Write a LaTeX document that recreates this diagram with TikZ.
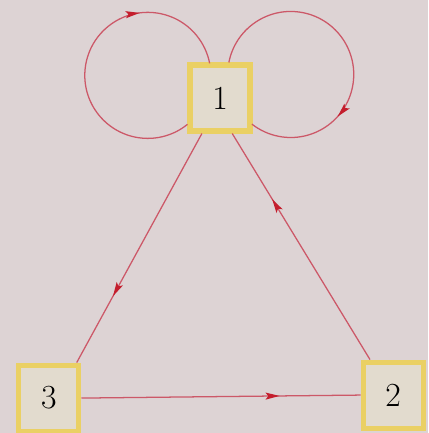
\documentclass[tikz,border=0pt]{standalone}
\usepackage{xcolor}
\usepackage{tikz}
\usetikzlibrary{positioning,arrows.meta,decorations.markings}

\definecolor{paper}{RGB}{221,211,212}
\definecolor{boxfill}{RGB}{226,219,206}
\definecolor{boxedge}{RGB}{234,208,100}
\definecolor{edgered}{RGB}{204,88,104}
\definecolor{tipred}{RGB}{196,30,45}

\begin{document}
\begin{tikzpicture}[
  x=0.025cm, y=0.025cm,
  state/.style={draw=boxedge, fill=boxfill, line width=3.6pt,
                minimum width=1.5cm, minimum height=1.65cm,
                inner sep=0pt, font=\fontsize{24}{28}\selectfont},
  link/.style={draw=edgered, line width=0.9pt,
               postaction={decorate, decoration={markings,
                 mark=at position 0.71 with
                 {\arrow[tipred]{Stealth[length=10pt,width=5pt,inset=2pt]}}}}}
]
\fill[paper] (0,0) rectangle (428,433);
\useasboundingbox (0,0) rectangle (428,433);

\node[state] (b1) at (220,335) {1};
\node[state, on grid, below left=7.5cm and 4.275cm of b1] (b3) {3};
\node[state, on grid, below right=7.425cm and 4.325cm of b1] (b2) {2};

% loops on node 1
\draw[link] (b1.219) arc[start angle=-51, end angle=-349, radius=1.575cm];
\draw[link] (b1.76) arc[start angle=169, end angle=-128, radius=1.575cm];

% triangle
\draw[link] (b1.-117) -- (b3.52);
\draw[link] (b2.123) -- (b1.-71);
\draw[link] (b3.east) -- (b2.west);
\end{tikzpicture}
\end{document}
